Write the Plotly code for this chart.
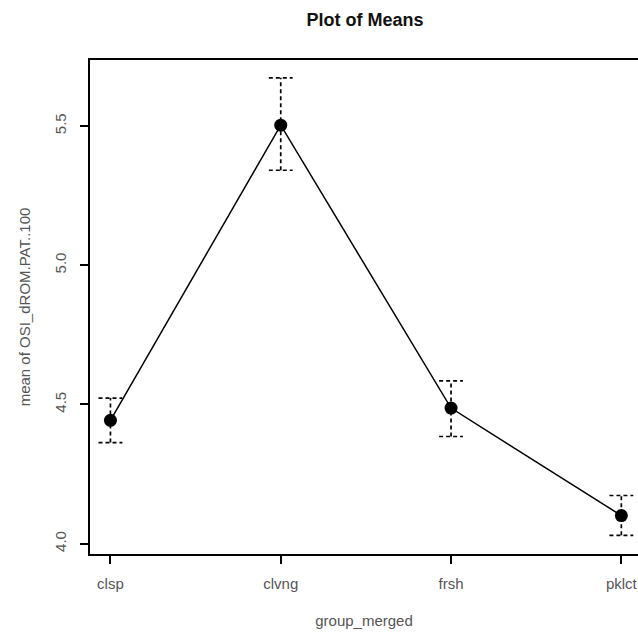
import plotly.graph_objects as go

groups = ["clsp", "clvng", "frsh", "pklct"]
means = [4.443, 5.503, 4.487, 4.101]
upper = [4.523, 5.673, 4.585, 4.173]
lower = [4.363, 5.341, 4.385, 4.030]
ytick_vals = [4.0, 4.5, 5.0, 5.5]
ytick_text = ["4.0", "4.5", "5.0", "5.5"]

xpos = list(range(1, len(groups) + 1))
cap = 0.07
FONT = "Liberation Sans, Arial, sans-serif"
GRAY = "#555"

W, H = 638, 634
L, T, B = 90, 60, 80

fig = go.Figure()

ex, ey = [], []
for x, lo, hi in zip(xpos, lower, upper):
    ex += [x, x, None, x - cap, x + cap, None, x - cap, x + cap, None]
    ey += [lo, hi, None, hi, hi, None, lo, lo, None]
fig.add_trace(go.Scatter(x=ex, y=ey, mode="lines",
                         line=dict(color="black", width=1.7, dash="4px,3px"),
                         hoverinfo="skip", showlegend=False))

fig.add_trace(go.Scatter(x=xpos, y=means, mode="lines+markers",
                         line=dict(color="black", width=1.5),
                         marker=dict(color="black", size=13, symbol="circle"),
                         showlegend=False))

fig.update_layout(
    width=W, height=H,
    margin=dict(l=L, r=0, t=T, b=B),
    paper_bgcolor="white", plot_bgcolor="white",
    title=dict(text="<b>Plot of Means</b>", x=365 / W, xanchor="center",
               y=1 - 20 / H, yanchor="middle",
               font=dict(family=FONT, size=18, color="#111")),
    font=dict(family=FONT, size=15, color=GRAY),
)
fig.update_xaxes(range=[0.88, 0.88 + (W - L) / 170.3], tickvals=xpos, ticktext=groups,
                 showgrid=False, zeroline=False, showline=True, linecolor="black",
                 linewidth=2, mirror=True, ticks="outside", ticklen=8, tickwidth=1.5,
                 tickcolor="black", ticklabelstandoff=7, ticklabeloverflow="allow",
                 automargin=False,
                 tickfont=dict(size=15, color=GRAY),
                 title=dict(text="group_merged", font=dict(size=15, color=GRAY), standoff=24))
fig.update_yaxes(range=[3.963, 5.737], tickvals=ytick_vals, ticktext=ytick_text,
                 tickangle=-90, showgrid=False, zeroline=False, showline=True,
                 linecolor="black", linewidth=2, mirror=False, ticks="outside",
                 ticklen=8, tickwidth=1.5, tickcolor="black", ticklabelstandoff=8,
                 automargin=False,
                 tickfont=dict(size=15, color=GRAY),
                 title=dict(text="mean of OSI_dROM.PAT..100",
                            font=dict(size=15, color=GRAY), standoff=18))

fig.write_html("out.html", config={"displayModeBar": False},
               post_script="document.body.style.margin='0';document.body.style.overflow='hidden';")
